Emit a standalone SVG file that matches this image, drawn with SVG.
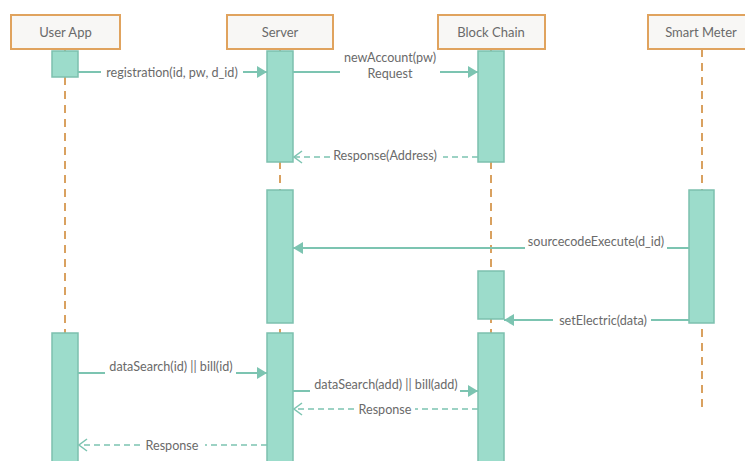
<svg xmlns="http://www.w3.org/2000/svg" width="745" height="461" viewBox="0 0 745 461">
<style>
.hdr{fill:#f8f7f5;stroke:#e0a35e;stroke-width:2}
.lbl{font-family:Lato,"Open Sans",sans-serif;font-size:12.6px;fill:#6a6a6a;text-anchor:middle;dominant-baseline:central}
.h{font-size:13px}
.life{stroke:#d9a160;stroke-width:2;stroke-dasharray:8,6;fill:none}
.act{fill:#9cdccb;stroke:#7cc0ae;stroke-width:1.5}
.msg{stroke:#7cc4b1;stroke-width:2;fill:none}
.ret{stroke:#7cc4b1;stroke-width:1.5;stroke-dasharray:6,4;fill:none}
</style>
<defs>
<marker id="fill" viewBox="0 0 10 12" refX="10" refY="6" markerWidth="10" markerHeight="12" markerUnits="userSpaceOnUse" orient="auto">
<path d="M0,0 L10,6 L0,12 z" fill="#7cc4b1"/>
</marker>
<marker id="open" viewBox="0 0 10 14" refX="9" refY="7" markerWidth="10" markerHeight="14" markerUnits="userSpaceOnUse" orient="auto">
<path d="M1,1 L9,7 L1,13" fill="none" stroke="#7cc4b1" stroke-width="1.5"/>
</marker>
</defs>
<rect width="745" height="461" fill="#fff"/>
<g id="lifelines">
<line class="life" x1="65" y1="49" x2="65" y2="333"/>
<line class="life" x1="280" y1="49" x2="280" y2="333"/>
<line class="life" x1="491" y1="49" x2="491" y2="333"/>
<line class="life" x1="702" y1="49" x2="702" y2="408"/>
</g>
<g id="user-app">
<rect class="hdr" x="11" y="15" width="109" height="34"/>
<text class="lbl h" x="65.5" y="32">User App</text>
<rect class="act" x="52" y="51" width="26" height="26"/>
<rect class="act" x="52" y="333" width="26" height="140"/>
</g>
<g id="server">
<rect class="hdr" x="227" y="15" width="106" height="34"/>
<text class="lbl h" x="280" y="32">Server</text>
<rect class="act" x="267" y="51" width="26" height="111"/>
<rect class="act" x="267" y="190" width="26" height="133"/>
<rect class="act" x="267" y="333" width="26" height="140"/>
</g>
<g id="block-chain">
<rect class="hdr" x="438" y="15" width="107" height="34"/>
<text class="lbl h" x="491" y="32">Block Chain</text>
<rect class="act" x="478" y="51" width="26" height="111"/>
<rect class="act" x="478" y="271" width="26" height="48"/>
<rect class="act" x="478" y="333" width="26" height="140"/>
</g>
<g id="smart-meter">
<rect class="hdr" x="648" y="15" width="107" height="34"/>
<text class="lbl h" x="701" y="32">Smart Meter</text>
<rect class="act" x="689" y="190" width="25" height="133"/>
</g>
<g id="connectors">
<path class="msg" d="M78,72 H101"/>
<path class="msg" d="M243,72 H267" marker-end="url(#fill)"/>
<text class="lbl" x="172" y="72">registration(id, pw, d_id)</text>
<path class="msg" d="M293,72 H340"/>
<path class="msg" d="M440,72 H478" marker-end="url(#fill)"/>
<text class="lbl" x="390" y="57">newAccount(pw)</text>
<text class="lbl" x="390" y="73">Request</text>
<path class="ret" d="M478,157 H443"/>
<path class="ret" d="M330,157 H294" marker-end="url(#open)"/>
<text class="lbl" x="385" y="155">Response(Address)</text>
<path class="msg" d="M689,248 H667"/>
<path class="msg" d="M525,248 H293" marker-end="url(#fill)"/>
<text class="lbl" x="596" y="241">sourcecodeExecute(d_id)</text>
<path class="msg" d="M689,320 H651"/>
<path class="msg" d="M553,320 H504" marker-end="url(#fill)"/>
<text class="lbl" x="603" y="320">setElectric(data)</text>
<path class="msg" d="M78,373 H105"/>
<path class="msg" d="M236,373 H267" marker-end="url(#fill)"/>
<text class="lbl" x="171" y="366">dataSearch(id) || bill(id)</text>
<path class="msg" d="M293,391 H310"/>
<path class="msg" d="M460,391 H478" marker-end="url(#fill)"/>
<text class="lbl" x="386" y="384">dataSearch(add) || bill(add)</text>
<path class="ret" d="M478,409 H415"/>
<path class="ret" d="M354,409 H294" marker-end="url(#open)"/>
<text class="lbl" x="385" y="409">Response</text>
<path class="ret" d="M267,445 H205"/>
<path class="ret" d="M140,445 H79" marker-end="url(#open)"/>
<text class="lbl" x="172" y="445">Response</text>
</g>
</svg>
